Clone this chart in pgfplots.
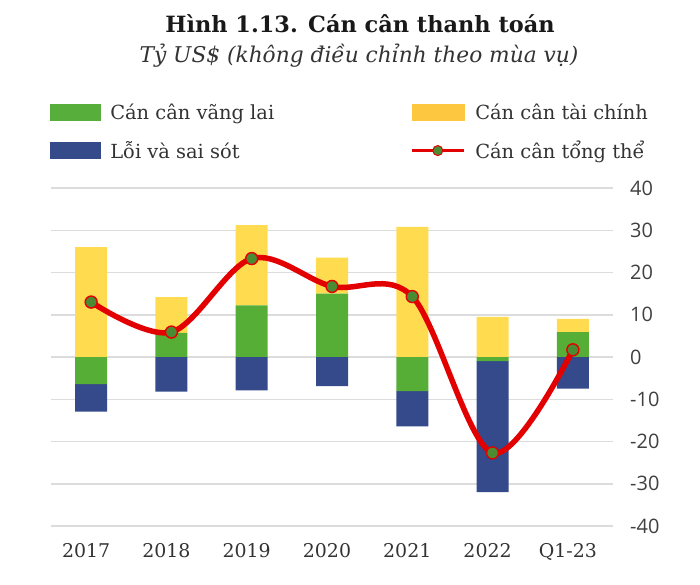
\documentclass[border=0pt]{standalone}
\usepackage{pgfplots}
\pgfplotsset{compat=1.18}
\usepackage{pgfplotstable}
\usepackage{fontspec}
\setmainfont{DejaVu Serif}
\newfontfamily\tickfont{Open Sans}
\usetikzlibrary{calc}
\definecolor{cGreen}{HTML}{56AE37}
\definecolor{cYellow}{HTML}{FFDB50}
\definecolor{cBlue}{HTML}{344A8A}
\definecolor{cGreenL}{HTML}{58AE3A}
\definecolor{cYellowL}{HTML}{FDC740}
\definecolor{lineRed}{HTML}{E30000}
\definecolor{markGreen}{HTML}{4B8C33}
\definecolor{gridgray}{HTML}{DCDCDC}
\definecolor{textgray}{HTML}{333333}
\definecolor{tickgray}{HTML}{404040}

\pgfplotstableread{
x ca fin
0 0 26.0
1 5.7 8.5
2 12.2 19.0
3 15.0 8.5
4 0 30.8
5 0 9.5
6 5.9 3.1
}\postab
\pgfplotstableread{
x ca err
0 -6.4 -6.5
1 0 -8.2
2 0 -7.9
3 0 -6.9
4 -8.1 -8.3
5 -1.0 -31.0
6 0 -7.5
}\negtab
\pgfplotstableread{
x total
0 13.0
1 5.9
2 23.3
3 16.7
4 14.3
5 -22.7
6 1.7
}\tottab

\pgfplotsset{base/.style={width=562bp, height=338bp, scale only axis,
  xmin=-0.5, xmax=6.5, ymin=-40, ymax=40}}

\begin{document}
\begin{tikzpicture}
\begin{axis}[base, name=ax, ybar stacked, bar width=32bp,
  axis line style={draw=none}, major tick length=0pt,
  ymajorgrids, grid style={color=gridgray, line width=1.5bp},
  ytick={-40,-30,...,40}, yticklabels={-40,-30,-20,-10,0,10,20,30,40},
  yticklabel pos=right,
  yticklabel style={anchor=west, inner sep=0pt, xshift=17bp,
    font=\tickfont\fontsize{20}{24}\selectfont, text=tickgray},
  xtick={0,...,6}, xticklabels={2017,2018,2019,2020,2021,2022,Q1-23},
  xticklabel style={anchor=north, inner sep=0pt, yshift=-17bp, xshift=-5bp,
    font=\fontsize{19}{22}\selectfont, text=textgray}]
\addplot[fill=cGreen, draw=none] table[x=x,y=ca]{\postab};
\addplot[fill=cYellow, draw=none] table[x=x,y=fin]{\postab};
\end{axis}
\begin{axis}[base, hide axis, ybar stacked, bar width=32bp]
\addplot[fill=cGreen, draw=none] table[x=x,y=ca]{\negtab};
\addplot[fill=cBlue, draw=none] table[x=x,y=err]{\negtab};
\end{axis}
\begin{axis}[base, hide axis,
  legend style={at={(-0.002,1.2485)}, anchor=north west, draw=none, fill=none,
    inner sep=0pt, outer sep=0pt, font=\fontsize{19.5}{23}\selectfont,
    text=textgray, row sep=20bp,
    nodes={inner sep=0pt},
    /tikz/every odd column/.append style={column sep=10bp},
    /tikz/every even column/.append style={column sep=0pt}},
  legend columns=2, legend cell align=left]
\addplot[smooth, tension=0.55, color=lineRed, line width=5.5bp, forget plot,
  mark=*, mark size=6bp, mark options={fill=markGreen, draw=lineRed, line width=1.4bp}]
  table[x=x,y=total]{\tottab};
\addlegendimage{legend image code/.code={\fill[cGreenL] (0bp,-8bp) rectangle (50bp,8bp);}}
\addlegendentry{\makebox[300bp][l]{Cán cân vãng lai}}
\addlegendimage{legend image code/.code={\fill[cYellowL] (0bp,-8bp) rectangle (52bp,8bp);}}
\addlegendentry{Cán cân tài chính}
\addlegendimage{legend image code/.code={\fill[cBlue] (0bp,-8bp) rectangle (50bp,8bp);}}
\addlegendentry{\makebox[300bp][l]{Lỗi và sai sót}}
\addlegendimage{legend image code/.code={\draw[lineRed, line width=3bp] (0bp,0bp)--(52bp,0bp);
  \filldraw[fill=markGreen, draw=lineRed, line width=1bp] (26bp,0bp) circle (5bp);}}
\addlegendentry{Cán cân tổng thể}
\end{axis}
\coordinate (O) at ($(ax.south west)+(-51bp,526bp)$);
\node[font=\bfseries\fontsize{22.5}{26}\selectfont, text=black!90] at ($(O)+(360bp,-24bp)$) {Hình 1.13. Cán cân thanh toán};
\node[font=\itshape\fontsize{21.8}{26}\selectfont, text=textgray] at ($(O)+(359bp,-56bp)$) {Tỷ US\$ (không điều chỉnh theo mùa vụ)};
\pgfresetboundingbox
\useasboundingbox (O) rectangle ($(O)+(700bp,-585bp)$);
\end{tikzpicture}
\end{document}
